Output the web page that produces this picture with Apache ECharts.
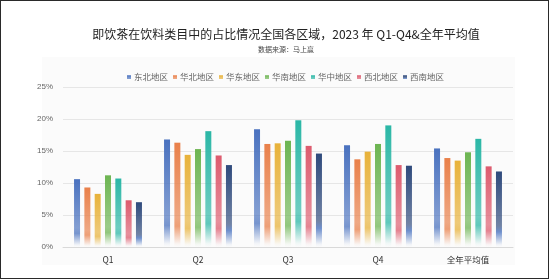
<!DOCTYPE html>
<html>
<head>
<meta charset="utf-8">
<script src="https://cdn.jsdelivr.net/npm/echarts@6/dist/echarts.min.js"></script>
<style>
  html, body { margin: 0; padding: 0; background: #fff; }
  #chart-container { position: absolute; left: 0; top: 0; width: 549px; height: 279px; }
  #frame { position: absolute; left: 0; top: 0; width: 549px; height: 279px; box-sizing: border-box;
           border: 1.5px solid #2a2a2a; pointer-events: none; }
</style>
</head>
<body>
<div id="chart-container"></div>
<div id="frame"></div>
<script>
var categories = ['Q1', 'Q2', 'Q3', 'Q4', '全年平均值'];
var regions = ['东北地区', '华北地区', '华东地区', '华南地区', '华中地区', '西北地区', '西南地区'];
var dongbei = [10.6, 16.8, 18.4, 15.9, 15.4];
var huabei = [9.3, 16.3, 16.1, 13.7, 13.9];
var huadong = [8.3, 14.4, 16.2, 14.9, 13.5];
var huanan = [11.2, 15.3, 16.6, 16.1, 14.8];
var huazhong = [10.7, 18.1, 19.8, 19.0, 16.9];
var xibei = [7.3, 14.3, 15.8, 12.8, 12.6];
var xinan = [7.0, 12.8, 14.6, 12.7, 11.8];
var yTicks = [0, 5, 10, 15, 20, 25];

var seriesData = [dongbei, huabei, huadong, huanan, huazhong, xibei, xinan];
var colors = ['#4a72bf', '#e9804a', '#e8b23a', '#6db552', '#2bb7a6', '#dd5b6e', '#2f4a7c'];
var bottomColors = ['#4a72bf', '#e9804a', '#e8b23a', '#6db552', '#2bb7a6', '#dd5b6e', '#3f6bbd'];

function fade(hex, a) {
  var r = parseInt(hex.slice(1, 3), 16), g = parseInt(hex.slice(3, 5), 16), b = parseInt(hex.slice(5, 7), 16);
  return 'rgba(' + r + ',' + g + ',' + b + ',' + a + ')';
}

var dom = document.getElementById('chart-container');
var myChart = echarts.init(dom, null, { renderer: 'canvas' });

var option = {
  animation: false,
  color: colors,
  title: {
    text: '即饮茶在饮料类目中的占比情况全国各区域，2023 年 Q1-Q4&全年平均值',
    subtext: '数据来源：马上赢',
    left: 281,
    textAlign: 'center',
    top: 23,
    itemGap: 6,
    textStyle: { fontSize: 12, fontWeight: 'normal', color: '#222', fontFamily: 'Noto Sans CJK SC' },
    subtextStyle: { fontSize: 7, color: '#444', fontFamily: 'Noto Sans CJK SC' }
  },
  graphic: [
    { type: 'rect', z: -10, shape: { x: 42, y: 57, width: 473, height: 208 }, style: { fill: '#fbfbfb' } }
  ],
  legend: {
    top: 68,
    left: 122,
    itemWidth: 4,
    itemHeight: 4,
    itemGap: 5,
    icon: 'rect',
    textStyle: { fontSize: 8.5, color: '#666', fontFamily: 'Noto Sans CJK SC', padding: [0, 0, 0, -2] },
    data: regions
  },
  grid: { left: 63, right: 36, top: 87, bottom: 32 },
  xAxis: {
    type: 'category',
    data: categories,
    axisLine: { lineStyle: { color: '#d9d9d9' } },
    axisTick: { show: false },
    axisLabel: { fontSize: 8.5, color: '#333', margin: 9, fontFamily: 'Noto Sans CJK SC' }
  },
  yAxis: {
    type: 'value',
    min: yTicks[0],
    max: yTicks[yTicks.length - 1],
    interval: 5,
    axisLabel: { formatter: '{value}%', fontSize: 8, color: '#666', margin: 10 },
    splitLine: { lineStyle: { color: '#e6e6e6' } }
  },
  series: seriesData.map(function (d, i) {
    return {
      name: regions[i],
      type: 'bar',
      data: d,
      barWidth: 6,
      barGap: '72%',
      itemStyle: {
        color: new echarts.graphic.LinearGradient(0, 0, 0, 1, [
          { offset: 0, color: colors[i] },
          { offset: 0.72, color: fade(colors[i], 0.68) },
          { offset: 0.8, color: fade(bottomColors[i], 0.75) },
          { offset: 0.97, color: fade(bottomColors[i], 0.05) },
          { offset: 1, color: fade(bottomColors[i], 0) }
        ])
      }
    };
  })
};

myChart.setOption(option);
window.addEventListener('resize', myChart.resize);
</script>
</body>
</html>
